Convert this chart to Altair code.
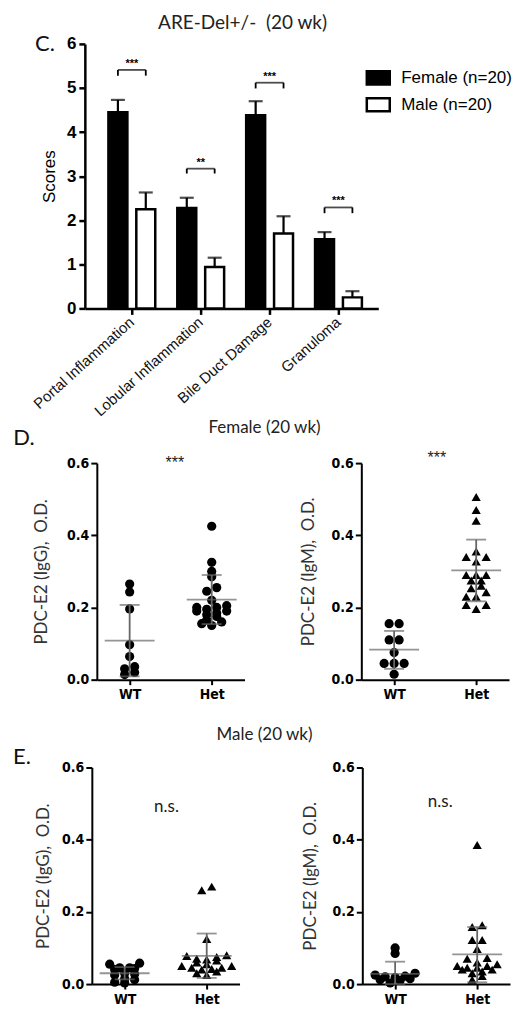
import altair as alt
import pandas as pd

ARIAL = "Liberation Sans, Arial, Helvetica, sans-serif"
NARROW = "Liberation Sans Narrow, Arial Narrow, DejaVu Sans Condensed, Liberation Sans, sans-serif"
CALIBRI = "Lato, Open Sans, sans-serif"

# ---------------- Panel C data ----------------
main_title = "ARE-Del+/-\u00a0\u00a0(20 wk)"
categories = ["Portal Inflammation", "Lobular Inflammation", "Bile Duct Damage", "Granuloma"]
groups = ["Female (n=20)", "Male (n=20)"]
female_score = [4.45, 2.28, 4.38, 1.57]
female_err_top = [4.73, 2.51, 4.70, 1.73]
male_score = [2.25, 0.94, 1.70, 0.25]
male_err_top = [2.63, 1.15, 2.09, 0.39]
sig_text = ["***", "**", "***", "***"]
sig_bracket = [5.41, 3.17, 5.12, 2.29]
sig_leg = [5.28, 3.06, 4.99, 2.16]
score_ticks = [0, 1, 2, 3, 4, 5, 6]

# ---------------- Panels D / E data ----------------
x_labels = ["WT", "Het"]
od_ticks = [0.0, 0.2, 0.4, 0.6]

f_igg_wt = [0.265, 0.243, 0.196, 0.097, 0.064, 0.036, 0.030, 0.020, 0.014]
f_igg_het = [0.425, 0.325, 0.30, 0.285, 0.255, 0.245, 0.22, 0.205, 0.20, 0.20,
             0.195, 0.19, 0.19, 0.185, 0.18, 0.175, 0.165, 0.16, 0.155, 0.15]
f_igg_mean = [0.108, 0.222]
f_igg_lo = [0.009, 0.154]
f_igg_hi = [0.207, 0.290]

f_igm_wt = [0.155, 0.155, 0.11, 0.11, 0.075, 0.045, 0.045, 0.045, 0.015]
f_igm_het = [0.506, 0.47, 0.44, 0.355, 0.34, 0.34, 0.327, 0.29, 0.29, 0.29,
             0.275, 0.275, 0.26, 0.253, 0.242, 0.23, 0.23, 0.207, 0.207, 0.196]
f_igm_mean = [0.083, 0.303]
f_igm_lo = [0.030, 0.217]
f_igm_hi = [0.135, 0.388]

m_igg_wt = [0.058, 0.055, 0.045, 0.045, 0.043, 0.040, 0.030, 0.028, 0.025, 0.015, 0.012, 0.005, 0.003]
m_igg_het = [0.27, 0.26, 0.125, 0.08, 0.078, 0.075, 0.07, 0.068, 0.065, 0.06,
             0.055, 0.05, 0.05, 0.045, 0.045, 0.042, 0.04, 0.035, 0.03, 0.025]
m_igg_mean = [0.030, 0.078]
m_igg_lo = [0.013, 0.017]
m_igg_hi = [0.047, 0.140]

m_igm_wt = [0.10, 0.085, 0.03, 0.025, 0.022, 0.02, 0.018, 0.015, 0.012, 0.01, 0.003]
m_igm_het = [0.385, 0.163, 0.158, 0.122, 0.122, 0.097, 0.072, 0.07, 0.06, 0.055,
             0.05, 0.05, 0.045, 0.045, 0.04, 0.04, 0.035, 0.03, 0.022, 0.012]
m_igm_mean = [0.028, 0.082]
m_igm_lo = [0.0, 0.005]
m_igm_hi = [0.062, 0.158]

PW, PH = 148, 217
XDOM = [-0.4, 1.4]


def swarm(vals, step=10.0, h=5.0):
    """GraphPad-like row scatter: values within h px share a row, spread side by side."""
    xs = PW / (XDOM[1] - XDOM[0])
    ys = PH / 0.6
    order = sorted(range(len(vals)), key=lambda i: -vals[i])
    offs = [0.0] * len(vals)
    bins, cur = [], []
    for i in order:
        if cur and (vals[cur[0]] - vals[i]) * ys > h:
            bins.append(cur)
            cur = []
        cur.append(i)
    if cur:
        bins.append(cur)
    for b in bins:
        n = len(b)
        slots = [(k - (n - 1) / 2.0) * step for k in range(n)]
        slots.sort(key=lambda s: (-abs(s), -s))  # outermost first
        for i, s in zip(b, slots):
            offs[i] = s / xs
    return offs


def spacer(w, h):
    return alt.Chart(pd.DataFrame({"s": [0]})).mark_point(opacity=0).encode(
        x=alt.value(0), y=alt.value(0)).properties(width=w, height=h)


def text_layer(txt, x, y, size, font, weight="normal", color="black", align="center"):
    return alt.Chart(pd.DataFrame({"t": [txt]})).mark_text(
        fontSize=size, font=font, fontWeight=weight, color=color, align=align, baseline="middle"
    ).encode(x=alt.value(x), y=alt.value(y), text="t:N")


# ---------------- Panel C ----------------
bar_df = pd.DataFrame({
    "cat": categories * 2,
    "grp": [groups[0]] * 4 + [groups[1]] * 4,
    "score": female_score + male_score,
    "top": female_err_top + male_err_top,
})
sig_df = pd.DataFrame({"cat": categories, "label": sig_text, "yb": sig_bracket})
leg_df = pd.DataFrame({
    "cat": categories * 2,
    "grp": [groups[0]] * 4 + [groups[1]] * 4,
    "yb": sig_bracket * 2,
    "yl": sig_leg * 2,
})

xC_scale = alt.Scale(paddingInner=0.32, paddingOuter=0.29, align=0.59)
xoC_scale = alt.Scale(paddingInner=0.32, paddingOuter=0)

bars = alt.Chart(bar_df).mark_bar(stroke="black", strokeWidth=2.5).encode(
    x=alt.X("cat:N", sort=categories, scale=xC_scale,
            axis=alt.Axis(title=None, labelAngle=-42, labelAlign="right", labelBaseline="middle",
                          labelFontSize=15, labelFont=ARIAL, labelColor="#111", labelPadding=5,
                          tickSize=6, tickWidth=2.5, domainWidth=2.5, domainColor="black",
                          tickColor="black", labelLimit=300)),
    xOffset=alt.XOffset("grp:N", sort=groups, scale=xoC_scale),
    y=alt.Y("score:Q", scale=alt.Scale(domain=[0, 6], nice=False),
            axis=alt.Axis(title="Scores", values=score_ticks, labelFontSize=17, labelFont=ARIAL,
                          labelFontWeight="bold", labelColor="black", tickSize=6, tickWidth=2.5,
                          domainWidth=2.5, domainColor="black", tickColor="black",
                          titleFont=ARIAL, titleFontSize=17, titleFontWeight="normal",
                          titleColor="black", titlePadding=8, labelPadding=3)),
    fill=alt.Fill("grp:N", scale=alt.Scale(domain=groups, range=["black", "white"]),
                  legend=alt.Legend(title=None, orient="none", legendX=281, legendY=21,
                                    symbolType="M-1,-0.57H1V0.57H-1Z", symbolSize=529,
                                    symbolStrokeColor="black", symbolStrokeWidth=2.5,
                                    labelFontSize=17, labelFont=ARIAL, labelColor="black",
                                    labelOffset=10, rowPadding=2)),
)
err = alt.Chart(bar_df).mark_rule(color="black", strokeWidth=2.2).encode(
    x=alt.X("cat:N", sort=categories), xOffset=alt.XOffset("grp:N", sort=groups),
    y=alt.Y("score:Q", title="Scores"), y2="top:Q")
caps = alt.Chart(bar_df).mark_tick(color="black", orient="horizontal", size=14, thickness=2.2).encode(
    x=alt.X("cat:N", sort=categories), xOffset=alt.XOffset("grp:N", sort=groups),
    y=alt.Y("top:Q", title="Scores"))
br_h = alt.Chart(sig_df).mark_tick(color="black", orient="horizontal", size=28, thickness=1.8).encode(
    x=alt.X("cat:N", sort=categories), y=alt.Y("yb:Q", title="Scores"))
br_v = alt.Chart(leg_df).mark_rule(color="black", strokeWidth=1.8).encode(
    x=alt.X("cat:N", sort=categories), xOffset=alt.XOffset("grp:N", sort=groups),
    y=alt.Y("yb:Q", title="Scores"), y2="yl:Q")
sig = alt.Chart(sig_df).mark_text(fontSize=11, fontWeight="bold", font=ARIAL, baseline="alphabetic", dy=-3).encode(
    x=alt.X("cat:N", sort=categories), y=alt.Y("yb:Q", title="Scores"), text="label:N")

panel_c = alt.layer(
    bars, err, caps, br_h, br_v, sig,
    text_layer(main_title, 158, -21, 19, CALIBRI, color="#222"),
    text_layer("C.", -40, 0, 22, CALIBRI, color="#111"),
).properties(width=294, height=265)


# ---------------- Panels D / E ----------------
def scatter_panel(wt, het, het_shape, mean, lo, hi, ytitle, title_pad, sig_txt, sig_x, sig_y,
                  sig_font, sig_size, extra=()):
    rows = []
    for gi, (vals, shp) in enumerate([(wt, "circle"), (het, het_shape)]):
        for v, o in zip(vals, swarm(vals)):
            rows.append({"x": gi + o, "v": v, "shape": shp})
    pts = pd.DataFrame(rows)
    st = pd.DataFrame({"x": [0, 1], "mean": mean, "lo": lo, "hi": hi})
    xax = alt.X("x:Q", scale=alt.Scale(domain=XDOM, nice=False, zero=False),
                axis=alt.Axis(values=[0, 1], title=None,
                              labelExpr="datum.value == 0 ? '%s' : '%s'" % tuple(x_labels),
                              labelFont=NARROW, labelFontSize=14, labelFontWeight="bold",
                              labelColor="black", tickSize=5, tickWidth=2, domainWidth=2,
                              domainColor="black", tickColor="black", labelPadding=3))
    yax = alt.Y("v:Q", scale=alt.Scale(domain=[0, 0.6], nice=False),
                axis=alt.Axis(values=od_ticks, format=".1f", title=ytitle, labelFont=NARROW,
                              labelFontSize=14, labelFontWeight="bold", labelColor="black",
                              tickSize=6, tickWidth=2, domainWidth=2, domainColor="black",
                              tickColor="black", labelPadding=2, titleFont=CALIBRI,
                              titleFontSize=17, titleFontWeight="normal", titleColor="#333",
                              titlePadding=title_pad))
    points = alt.Chart(pts).mark_point(filled=True, color="black", opacity=1, size=85).encode(
        x=xax, y=yax, shape=alt.Shape("shape:N", scale=None))
    grey = "#666"
    vline = alt.Chart(st).mark_rule(color=grey, strokeWidth=1.8).encode(
        x="x:Q", y=alt.Y("lo:Q", title=ytitle), y2="hi:Q")
    mline = alt.Chart(st).mark_tick(color=grey, orient="horizontal", size=50, thickness=1.8).encode(
        x="x:Q", y=alt.Y("mean:Q", title=ytitle))
    lcap = alt.Chart(st).mark_tick(color=grey, orient="horizontal", size=20, thickness=1.8).encode(
        x="x:Q", y=alt.Y("lo:Q", title=ytitle))
    hcap = alt.Chart(st).mark_tick(color=grey, orient="horizontal", size=20, thickness=1.8).encode(
        x="x:Q", y=alt.Y("hi:Q", title=ytitle))
    sdf = pd.DataFrame({"sx": [sig_x], "sy": [sig_y], "t": [sig_txt]})
    s = alt.Chart(sdf).mark_text(fontSize=sig_size, font=sig_font, color="#1a1a1a", baseline="middle").encode(
        x="sx:Q", y=alt.Y("sy:Q", title=ytitle), text="t:N")
    layers = [points, vline, mline, lcap, hcap, s] + list(extra)
    return alt.layer(*layers).properties(width=PW, height=PH)


d_left = scatter_panel(f_igg_wt, f_igg_het, "circle", f_igg_mean, f_igg_lo, f_igg_hi,
                       "PDC-E2 (IgG),\u00a0 O.D.", 16, "***", 0.55, 0.60, ARIAL, 16,
                       extra=[text_layer("Female (20 wk)", 168, -35, 17, CALIBRI, color="#222"),
                              text_layer("D.", -73, -25, 22, CALIBRI, color="#111")])
d_right = scatter_panel(f_igm_wt, f_igm_het, "triangle-up", f_igm_mean, f_igm_lo, f_igm_hi,
                        "PDC-E2 (IgM),\u00a0 O.D.", 14, "***", 0.52, 0.615, ARIAL, 16)
e_left = scatter_panel(m_igg_wt, m_igg_het, "triangle-up", m_igg_mean, m_igg_lo, m_igg_hi,
                       "PDC-E2 (IgG),\u00a0 O.D.", 9, "n.s.", 0.51, 0.49, CALIBRI, 17,
                       extra=[text_layer("Male (20 wk)", 173, -33, 17, CALIBRI, color="#222"),
                              text_layer("E.", -70, -11, 22, CALIBRI, color="#111")])
e_right = scatter_panel(m_igm_wt, m_igm_het, "triangle-up", m_igm_mean, m_igm_lo, m_igm_hi,
                        "PDC-E2 (IgM),\u00a0 O.D.", 13, "n.s.", 0.55, 0.505, CALIBRI, 17)

row_d = alt.hconcat(spacer(12, PH), d_left, spacer(117, PH), d_right, spacing=0, bounds="flush")
row_e = alt.hconcat(spacer(7, PH), e_left, spacer(123, PH), e_right, spacing=0, bounds="flush")

# nested concat rows report no height under flush bounds, so the spacer below row D
# carries row D's plot height plus the gap to row E
chart = alt.vconcat(
    panel_c, spacer(10, 155), row_d, spacer(10, PH + 88), row_e, spacing=0, bounds="flush"
).configure_view(stroke=None).configure_axis(grid=False)

chart.save("out.html", embed_options={"renderer": "svg", "actions": False})
